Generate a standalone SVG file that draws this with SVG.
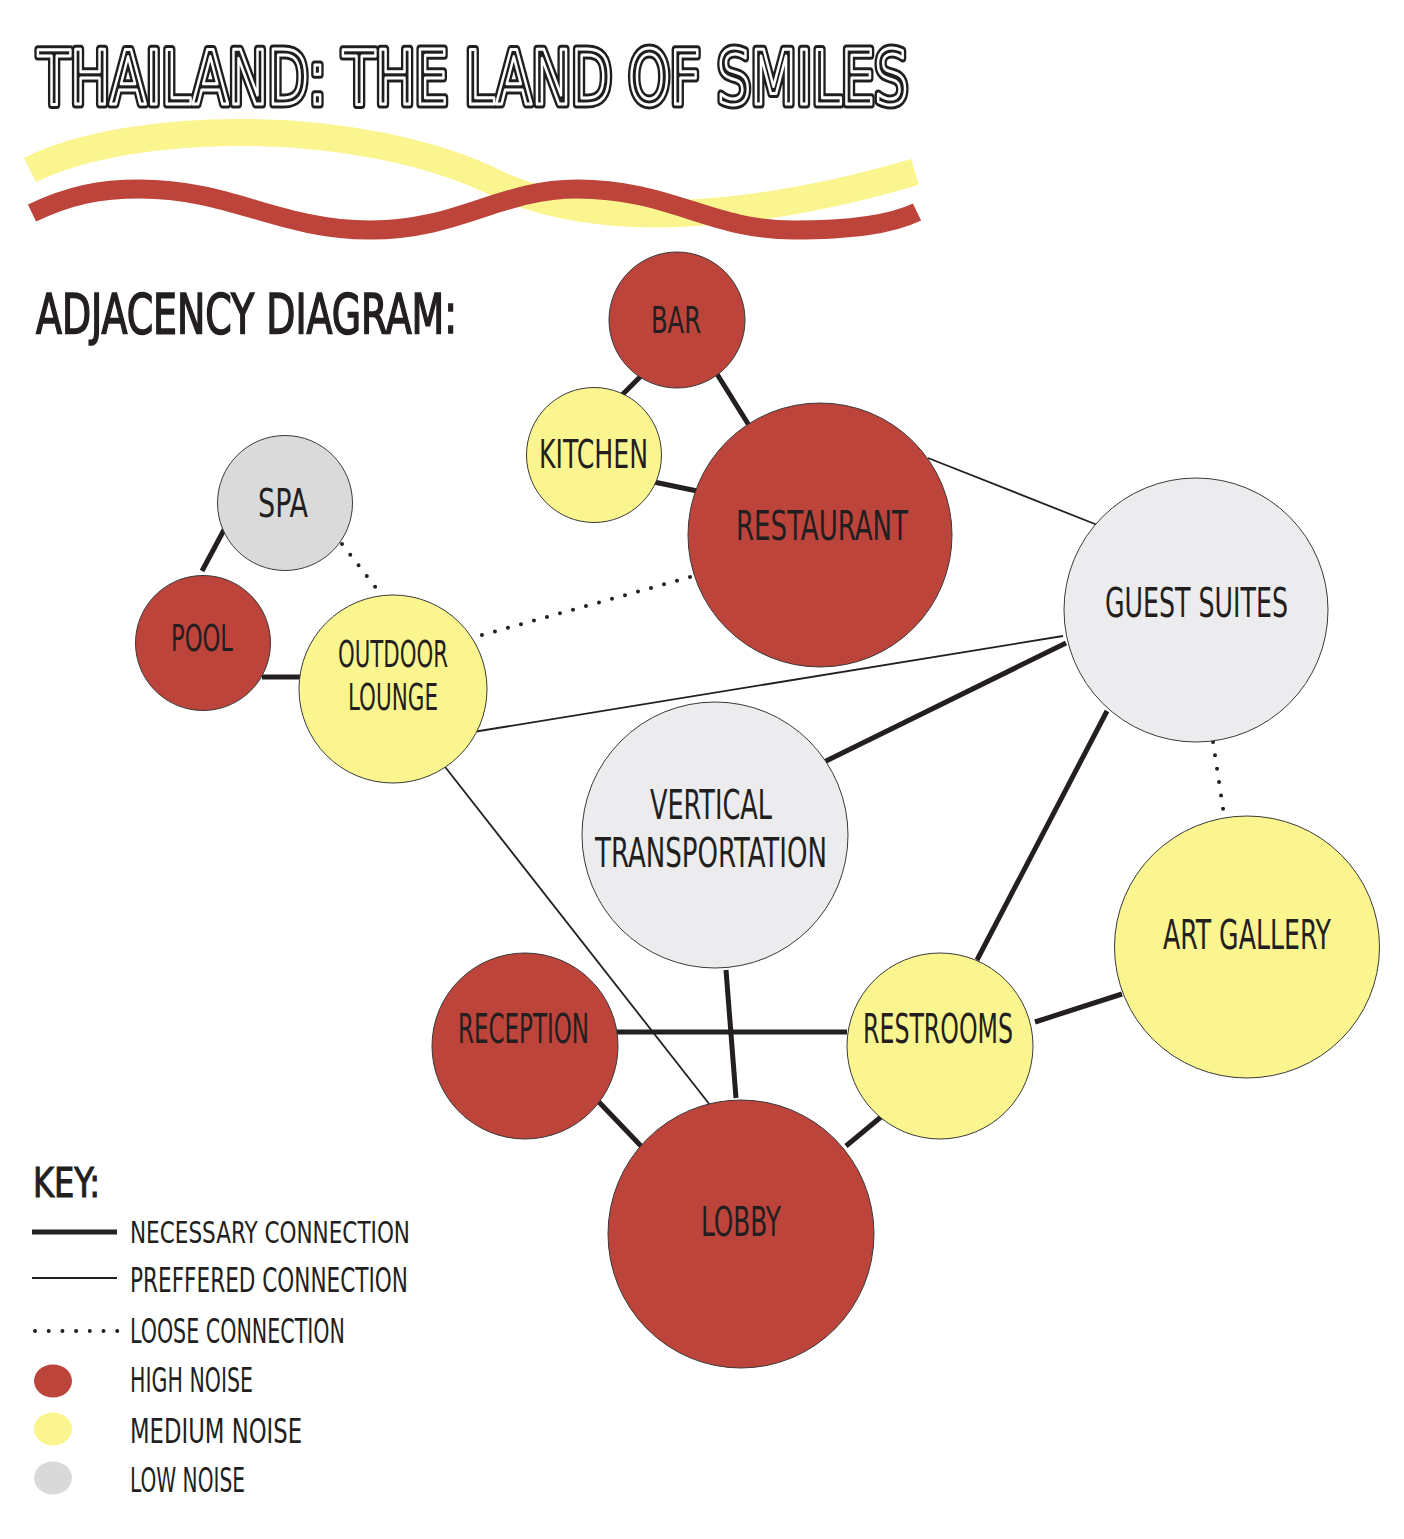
<svg xmlns="http://www.w3.org/2000/svg" xmlns:xlink="http://www.w3.org/1999/xlink" width="1404" height="1539" viewBox="0 0 1404 1539">
<style>
.node{stroke:#3a3a3a;stroke-width:1}
.hi{fill:#BD443B}
.md{fill:#FBF58F}
.lo{fill:#ECECEE}
.lo2{fill:#DADADA}
.lbl{font-family:"DejaVu Sans","Liberation Sans",sans-serif;font-stretch:condensed;fill:#231F20;text-transform:uppercase}
.nec{stroke:#231F20;stroke-width:5;fill:none}
.pref{stroke:#231F20;stroke-width:1.8;fill:none}
.loose{stroke:#231F20;stroke-width:4;stroke-linecap:round;stroke-dasharray:0 13.5;fill:none}
</style>
<defs>
<text id="titleText" x="38" y="103.5" font-family="DejaVu Sans, Liberation Sans, sans-serif" font-stretch="condensed" font-size="74" textLength="870" lengthAdjust="spacingAndGlyphs">THAILAND: THE LAND OF SMILES</text>
</defs>
<rect width="1404" height="1539" fill="#ffffff"/>
<g id="title">
<use xlink:href="#titleText" href="#titleText" fill="#1f1f1f" stroke="#1f1f1f" stroke-width="9" stroke-linejoin="round"/>
<use xlink:href="#titleText" href="#titleText" fill="none" stroke="#ffffff" stroke-width="3" stroke-linejoin="round"/>
</g>
<g id="waves" fill="none">
<path d="M 30 170 C 130 120, 360 115, 500 185 C 600 230, 750 220, 915 172" stroke="#FBF58F" stroke-width="27"/>
<path d="M 32 213 C 70 195, 100 189, 140 189 C 230 189, 280 230, 370 230 C 460 230, 500 189, 577 189 C 670 189, 710 230, 793 230 C 850 230, 890 225, 917 212" stroke="#BD443B" stroke-width="19"/>
</g>
<text x="36" y="333" class="lbl" font-size="56" textLength="421" lengthAdjust="spacingAndGlyphs" stroke="#231F20" stroke-width="1.6" style="text-transform:none">ADJACENCY DIAGRAM:</text>
<g id="connectors">
<line class="nec" x1="642" y1="375" x2="619" y2="398"/>
<line class="nec" x1="717" y1="374" x2="750" y2="427"/>
<line class="nec" x1="654" y1="482" x2="702" y2="492"/>
<line class="pref" x1="928" y1="458" x2="1100" y2="526"/>
<line class="loose" x1="690" y1="577" x2="475" y2="637"/>
<line class="nec" x1="225" y1="528" x2="202" y2="571"/>
<line class="loose" x1="342" y1="544" x2="380" y2="593"/>
<line class="nec" x1="262" y1="677" x2="300" y2="677"/>
<line class="pref" x1="473" y1="732" x2="1063" y2="636"/>
<line class="pref" x1="442" y1="763" x2="710" y2="1105"/>
<line class="nec" x1="1066" y1="643" x2="824" y2="762"/>
<line class="nec" x1="1107" y1="711" x2="977" y2="960"/>
<line class="loose" x1="1213" y1="742" x2="1224" y2="815"/>
<line class="nec" x1="1122" y1="994" x2="1035" y2="1022"/>
<line class="nec" x1="617" y1="1032" x2="847" y2="1032"/>
<line class="nec" x1="726" y1="970" x2="736" y2="1098"/>
<line class="nec" x1="597" y1="1100" x2="641" y2="1146"/>
<line class="nec" x1="887" y1="1112" x2="846" y2="1146"/>
</g>
<g id="bar"><circle class="node hi" cx="677" cy="320" r="68"/><text class="lbl" x="651" y="333" font-size="38" textLength="50" lengthAdjust="spacingAndGlyphs">BAR</text></g>
<g id="kitchen"><circle class="node md" cx="594" cy="455" r="67.5"/><text class="lbl" x="539" y="468" font-size="39" textLength="109" lengthAdjust="spacingAndGlyphs">Kitchen</text></g>
<g id="restaurant"><circle class="node hi" cx="820" cy="535" r="132"/><text class="lbl" x="736" y="540" font-size="40" textLength="172" lengthAdjust="spacingAndGlyphs">Restaurant</text></g>
<g id="spa"><circle class="node lo2" cx="285" cy="503" r="67.5"/><text class="lbl" x="258" y="517" font-size="39" textLength="50" lengthAdjust="spacingAndGlyphs">SPA</text></g>
<g id="pool"><circle class="node hi" cx="203" cy="643" r="67.5"/><text class="lbl" x="171" y="651" font-size="38" textLength="62" lengthAdjust="spacingAndGlyphs">POOL</text></g>
<g id="outdoor-lounge"><circle class="node md" cx="393" cy="689" r="94"/><text class="lbl" font-size="38"><tspan x="338" y="667" textLength="110" lengthAdjust="spacingAndGlyphs">Outdoor</tspan><tspan x="348" y="710" textLength="90" lengthAdjust="spacingAndGlyphs">Lounge</tspan></text></g>
<g id="guest-suites"><circle class="node lo" cx="1196" cy="610" r="132"/><text class="lbl" x="1105" y="617" font-size="40" textLength="183" lengthAdjust="spacingAndGlyphs">Guest Suites</text></g>
<g id="vertical-transportation"><circle class="node lo" cx="715" cy="835" r="133"/><text class="lbl" font-size="40"><tspan x="650" y="819" textLength="122" lengthAdjust="spacingAndGlyphs">Vertical</tspan><tspan x="595" y="867" textLength="232" lengthAdjust="spacingAndGlyphs">transportation</tspan></text></g>
<g id="art-gallery"><ellipse class="node md" cx="1247" cy="947" rx="132.5" ry="131"/><text class="lbl" x="1163" y="949" font-size="40" textLength="168" lengthAdjust="spacingAndGlyphs">Art Gallery</text></g>
<g id="reception"><circle class="node hi" cx="525" cy="1046" r="93"/><text class="lbl" x="458" y="1043" font-size="40" textLength="131" lengthAdjust="spacingAndGlyphs">Reception</text></g>
<g id="restrooms"><circle class="node md" cx="940" cy="1046" r="93"/><text class="lbl" x="863" y="1043" font-size="40" textLength="150" lengthAdjust="spacingAndGlyphs">Restrooms</text></g>
<g id="lobby"><ellipse class="node hi" cx="741" cy="1234" rx="133" ry="134"/><text class="lbl" x="701" y="1236" font-size="40" textLength="80" lengthAdjust="spacingAndGlyphs">LOBBY</text></g>
<g id="key">
<text class="lbl" x="33" y="1197" font-size="40" textLength="67" lengthAdjust="spacingAndGlyphs" stroke="#231F20" stroke-width="1">Key:</text>
<line class="nec" x1="32" y1="1232" x2="117" y2="1232"/>
<text class="lbl" x="130" y="1243" font-size="31" textLength="280" lengthAdjust="spacingAndGlyphs">necessary connection</text>
<line class="pref" x1="32" y1="1278" x2="117" y2="1278"/>
<text class="lbl" x="130" y="1292" font-size="33" textLength="278" lengthAdjust="spacingAndGlyphs">preffered connection</text>
<line class="loose" x1="35" y1="1331" x2="118" y2="1331" style="stroke-dasharray:0 13.7"/>
<text class="lbl" x="130" y="1343" font-size="33" textLength="215" lengthAdjust="spacingAndGlyphs">loose connection</text>
<ellipse class="hi" cx="53" cy="1381" rx="19" ry="16.5"/>
<text class="lbl" x="130" y="1392" font-size="33" textLength="123" lengthAdjust="spacingAndGlyphs">HIGH noise</text>
<ellipse class="md" cx="53" cy="1429" rx="19" ry="16.5"/>
<text class="lbl" x="130" y="1443" font-size="33" textLength="172" lengthAdjust="spacingAndGlyphs">medium noise</text>
<ellipse cx="53" cy="1478" rx="19" ry="16.5" fill="#D9D9D9"/>
<text class="lbl" x="130" y="1492" font-size="33" textLength="115" lengthAdjust="spacingAndGlyphs">LOW noise</text>
</g>
</svg>
